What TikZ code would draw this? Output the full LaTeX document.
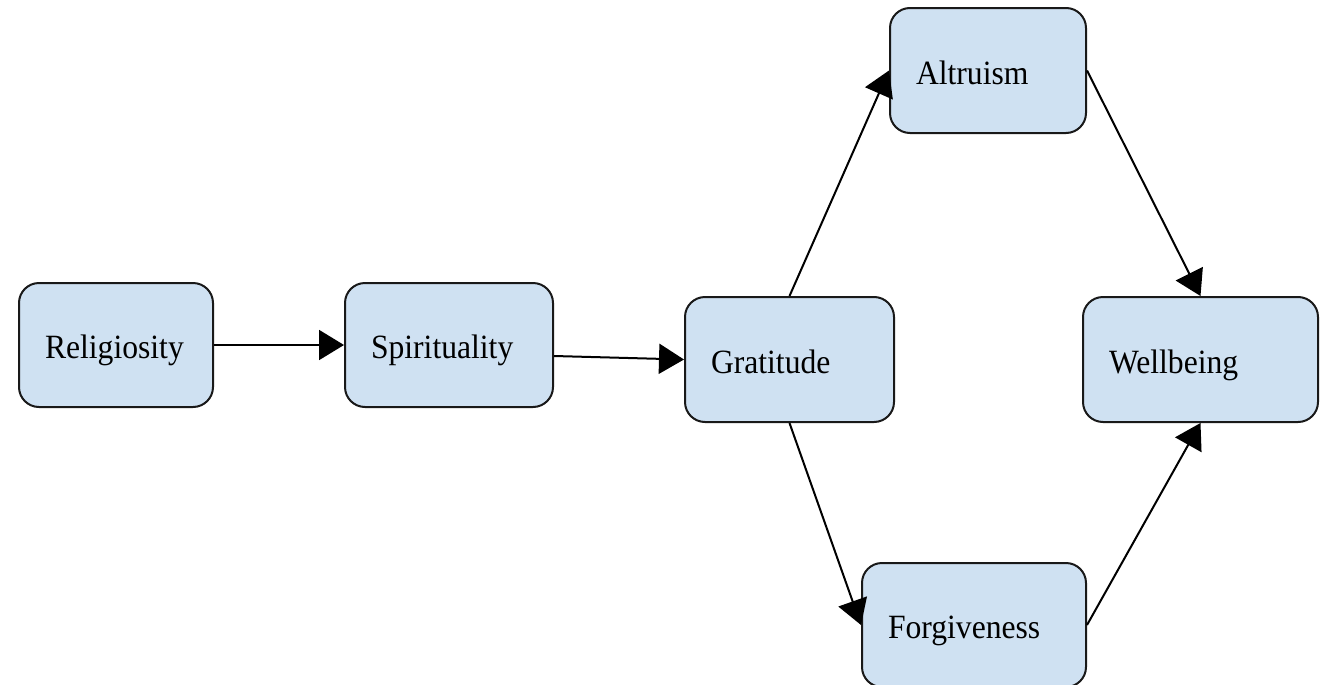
\documentclass[tikz,border=0pt]{standalone}
\usepackage{fontspec}
\setmainfont[FakeStretch=0.93]{Liberation Serif}
\usetikzlibrary{arrows.meta}
\definecolor{boxblue}{RGB}{207,225,242}
\begin{document}
\begin{tikzpicture}[x=0.5pt,y=-0.5pt,
  stage/.style={draw=black!90, fill=boxblue, line width=1pt, rounded corners=10pt,
    anchor=north west, inner xsep=13pt, inner ysep=0pt, align=left,
    text height=17pt, text depth=3.5pt,
    font=\fontsize{17}{20}\selectfont},
  link/.style={line width=1pt, -{Triangle[length=12.5pt,width=15pt]}}]
\useasboundingbox (0,0) rectangle (1322,685);
\node[stage, text width=71pt,  minimum height=62pt]   (rel) at (18,282)   {Religiosity};
\node[stage, text width=78pt,  minimum height=62pt]   (spi) at (344,282)  {Spirituality};
\node[stage, text width=78.5pt,minimum height=62.5pt] (gra) at (684,296)  {Gratitude};
\node[stage, text width=72pt,  minimum height=62.5pt] (alt) at (889,7)    {Altruism};
\node[stage, text width=91.5pt,minimum height=62.5pt] (wel) at (1082,296) {Wellbeing};
\node[stage, text width=86pt,  minimum height=62pt]   (for) at (861,562)  {Forgiveness};

\draw[link] (rel.east) -- (spi.west);
\draw[link] ([yshift=-5.5pt]spi.east) -- (gra.west);
\draw[link] (gra.north) -- (alt.west);
\draw[link] (gra.south) -- (for.west);
\draw[link] (alt.east) -- (wel.north);
\draw[link] (for.east) -- (wel.south);
\end{tikzpicture}
\end{document}
